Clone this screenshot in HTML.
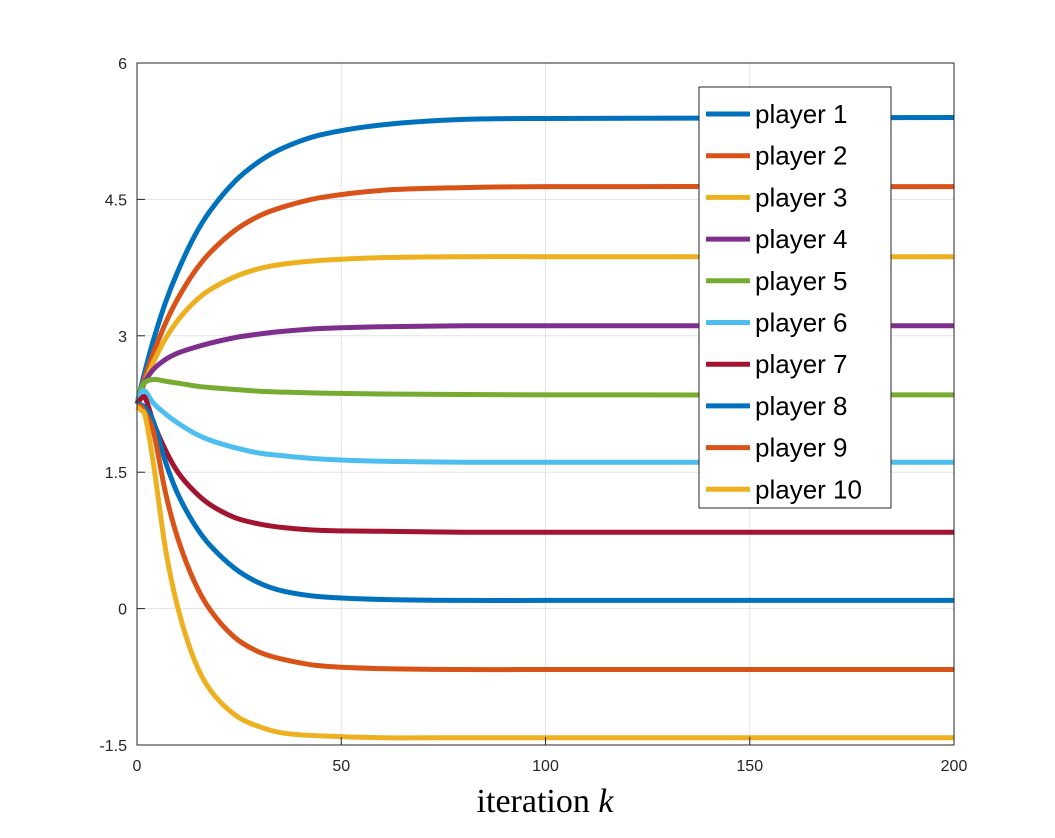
<!DOCTYPE html>
<html><head><meta charset="utf-8"><style>
body{margin:0;background:#fff}
svg{display:block}
</style></head><body>
<svg id="chart" width="1055" height="838" xmlns="http://www.w3.org/2000/svg" font-family="Liberation Sans, sans-serif">
<rect width="1055" height="838" fill="#fff"/>
<g id="grid"></g>
<g id="lines"></g>
<g id="axes"></g>
<g id="legend"></g>
</svg>
<script>
const iterations=[0,1,2,4,7,10,14,18,24,30,36,45,60,80,100,200];
const player1=[2.25,2.44,2.62,2.95,3.37,3.71,4.09,4.38,4.70,4.92,5.07,5.21,5.32,5.38,5.39,5.40];
const player2=[2.25,2.40,2.55,2.81,3.14,3.41,3.70,3.92,4.16,4.32,4.42,4.52,4.60,4.63,4.64,4.64];
const player3=[2.25,2.38,2.50,2.71,2.97,3.17,3.37,3.51,3.65,3.74,3.79,3.83,3.86,3.87,3.87,3.87];
const player4=[2.25,2.40,2.50,2.63,2.74,2.81,2.87,2.92,2.98,3.02,3.05,3.08,3.10,3.11,3.11,3.11];
const player5=[2.25,2.42,2.49,2.52,2.50,2.48,2.45,2.43,2.41,2.39,2.38,2.37,2.36,2.355,2.35,2.35];
const player6=[2.25,2.38,2.39,2.26,2.14,2.04,1.93,1.85,1.77,1.71,1.68,1.645,1.62,1.61,1.61,1.61];
const player7=[2.25,2.31,2.32,2.05,1.74,1.50,1.29,1.14,1.00,0.93,0.89,0.86,0.85,0.84,0.84,0.84];
const player8=[2.25,2.24,2.21,2.06,1.61,1.26,0.93,0.69,0.44,0.28,0.19,0.13,0.10,0.09,0.09,0.09];
const player9=[2.23,2.22,2.15,1.95,1.27,0.77,0.30,-0.02,-0.32,-0.48,-0.56,-0.63,-0.66,-0.67,-0.67,-0.67];
const player10=[2.22,2.18,2.12,1.60,0.65,0.01,-0.56,-0.90,-1.17,-1.30,-1.37,-1.40,-1.42,-1.42,-1.42,-1.42];
const seriesNames=["player 1","player 2","player 3","player 4","player 5","player 6","player 7","player 8","player 9","player 10"];
const xTicks=[0,50,100,150,200];
const yTicks=[-1.5,0,1.5,3,4.5,6];
const yTickLabels=["-1.5","0","1.5","3","4.5","6"];

const series=[player1,player2,player3,player4,player5,player6,player7,player8,player9,player10];
const colors=["#0072BD","#D95319","#EDB120","#7E2F8E","#77AC30","#4DBEEE","#A2142F","#0072BD","#D95319","#EDB120"];
const L=137,R=954,T=63,B=745;
const xs=v=>L+(v-0)/(200-0)*(R-L);
const ys=v=>B-(v+1.5)/(7.5)*(B-T);
const NS="http://www.w3.org/2000/svg";
function mk(tag,attrs,parent){const e=document.createElementNS(NS,tag);for(const k in attrs)e.setAttribute(k,attrs[k]);parent.appendChild(e);return e;}
const grid=document.getElementById('grid'),axes=document.getElementById('axes'),lines=document.getElementById('lines'),legend=document.getElementById('legend');
xTicks.forEach((t,i)=>{
 const g=mk('line',{x1:xs(t),x2:xs(t),y1:T,y2:B,stroke:'#e3e3e3','stroke-width':1},grid);
 
 
 const tk=mk('line',{x1:xs(t),x2:xs(t),y1:B,y2:B-8,stroke:'#262626'},axes);
 
 
 const tx=mk('text',{x:xs(t),y:B+26,'text-anchor':'middle','font-size':16,fill:'#262626'},axes);
 tx.textContent=t;
 
 
});
yTicks.forEach((t,i)=>{
 const g=mk('line',{x1:L,x2:R,y1:ys(t),y2:ys(t),stroke:'#e3e3e3','stroke-width':1},grid);
 
 
 const tk=mk('line',{x1:L,x2:L+8,y1:ys(t),y2:ys(t),stroke:'#262626'},axes);
 
 
 const tx=mk('text',{x:L-10,y:ys(t)+6,'text-anchor':'end','font-size':16,fill:'#262626'},axes);
 tx.textContent=yTickLabels[i];
 
 
});
const box=mk('rect',{x:L,y:T,width:R-L,height:B-T,fill:'none',stroke:'#262626','stroke-width':1},axes);


const xl=mk('text',{x:545,y:812,'text-anchor':'middle','font-size':34,'font-family':'Liberation Serif, serif',fill:'#000'},axes);
xl.innerHTML='iteration <tspan font-style="italic">k</tspan>';


function pathFor(vals){
 const p=iterations.map((k,i)=>[xs(k),ys(vals[i])]);
 let d='M'+p[0][0]+','+p[0][1];
 for(let i=0;i<p.length-1;i++){
  const p0=p[Math.max(0,i-1)],p1=p[i],p2=p[i+1],p3=p[Math.min(p.length-1,i+2)];
  const h=p2[0]-p1[0];
  const s1=(p2[1]-p0[1])/(p2[0]-p0[0]||1), s2=(p3[1]-p1[1])/(p3[0]-p1[0]||1);
  const c1=[p1[0]+h/3,p1[1]+s1*h/3];
  const c2=[p2[0]-h/3,p2[1]-s2*h/3];
  d+=' C'+c1+' '+c2+' '+p2;
 }
 return d;
}
series.forEach((s,i)=>{
 const pth=mk('path',{d:pathFor(s),fill:'none',stroke:colors[i],'stroke-width':5,'stroke-linejoin':'round'},lines);
 
 
});
const lb=mk('rect',{x:699,y:87,width:192,height:421,fill:'#fff',stroke:'#262626','stroke-width':1},legend);


seriesNames.forEach((n,i)=>{
 const y=114+i*41.7;
 const ln=mk('line',{x1:706,x2:750,y1:y,y2:y,stroke:colors[i],'stroke-width':5},legend);
 
 
 const t=mk('text',{x:755,y:y+9,'font-size':26,fill:'#000'},legend);
 t.textContent=n;
 
 
});
</script>
</body></html>
